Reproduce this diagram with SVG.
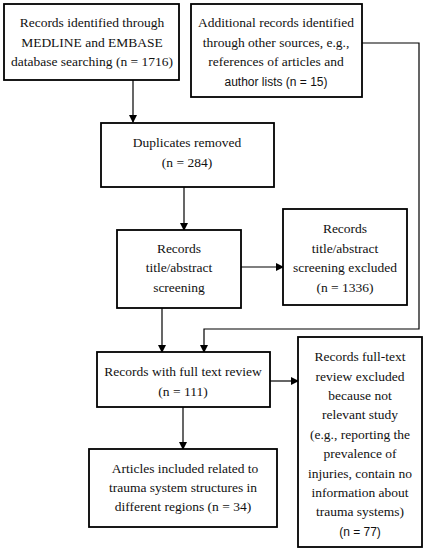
<svg xmlns="http://www.w3.org/2000/svg" width="425" height="550" viewBox="0 0 425 550">
<defs>
<marker id="ah" markerWidth="8" markerHeight="8" refX="7" refY="4" orient="auto" markerUnits="userSpaceOnUse">
<path d="M0,0 L8,4 L0,8 Z" fill="#000"/>
</marker>
<style>
.box{fill:#fff;stroke:#000;stroke-width:1.8}
.t{font-family:"Liberation Serif","DejaVu Serif",serif;font-size:13.5px;fill:#111;text-anchor:middle}
.s{font-family:"Liberation Sans","DejaVu Sans",sans-serif;font-size:12px;fill:#111;text-anchor:middle}
.c{fill:none;stroke:#000;stroke-width:1.2}
</style>
</defs>
<rect width="425" height="550" fill="#fff"/>
<g id="connectors">
<path class="c" d="M133,80 L133,122" marker-end="url(#ah)"/>
<path class="c" d="M362,43 L419,43 L419,329 L204,329 L204,352" marker-end="url(#ah)"/>
<path class="c" d="M184,187 L184,230" marker-end="url(#ah)"/>
<path class="c" d="M241,267 L283,267" marker-end="url(#ah)"/>
<path class="c" d="M162,308 L162,352" marker-end="url(#ah)"/>
<path class="c" d="M270,381 L298,381" marker-end="url(#ah)"/>
<path class="c" d="M183,407 L183,449" marker-end="url(#ah)"/>
</g>
<g id="n1">
<rect class="box" x="4" y="4" width="175" height="76"/>
<text class="t" x="92" y="27">Records identified through</text>
<text class="t" x="92" y="47">MEDLINE and EMBASE</text>
<text class="t" x="92" y="66">database searching (n = 1716)</text>
</g>
<g id="n2">
<rect class="box" x="191" y="4" width="171" height="93"/>
<text class="t" x="276" y="27">Additional records identified</text>
<text class="t" x="276" y="47">through other sources, e.g.,</text>
<text class="t" x="276" y="66">references of articles and</text>
<text class="s" x="276" y="86">author lists (n = 15)</text>
</g>
<g id="n3">
<rect class="box" x="101" y="123" width="173" height="64"/>
<text class="t" x="187" y="147">Duplicates removed</text>
<text class="t" x="187" y="167">(n = 284)</text>
</g>
<g id="n4">
<rect class="box" x="117" y="230" width="124" height="78"/>
<text class="t" x="179" y="253">Records</text>
<text class="t" x="179" y="272">title/abstract</text>
<text class="t" x="179" y="292">screening</text>
</g>
<g id="n5">
<rect class="box" x="283" y="209" width="124" height="96"/>
<text class="t" x="345" y="233">Records</text>
<text class="t" x="345" y="253">title/abstract</text>
<text class="t" x="345" y="272">screening excluded</text>
<text class="t" x="345" y="292">(n = 1336)</text>
</g>
<g id="n6">
<rect class="box" x="97" y="352" width="173" height="55"/>
<text class="t" x="183" y="376">Records with full text review</text>
<text class="t" x="183" y="396">(n = 111)</text>
</g>
<g id="n7">
<rect class="box" x="298" y="337" width="124" height="210"/>
<text class="t" x="360" y="361">Records full-text</text>
<text class="t" x="360" y="381">review excluded</text>
<text class="t" x="360" y="400">because not</text>
<text class="t" x="360" y="419">relevant study</text>
<text class="t" x="360" y="439">(e.g., reporting the</text>
<text class="t" x="360" y="458">prevalence of</text>
<text class="t" x="360" y="478">injuries, contain no</text>
<text class="t" x="360" y="497">information about</text>
<text class="t" x="360" y="516">trauma systems)</text>
<text class="s" x="360" y="536">(n = 77)</text>
</g>
<g id="n8">
<rect class="box" x="89" y="449" width="188" height="78"/>
<text class="t" x="185" y="473">Articles included related to</text>
<text class="t" x="183" y="492">trauma system structures in</text>
<text class="t" x="183" y="511">different regions (n = 34)</text>
</g>
</svg>
